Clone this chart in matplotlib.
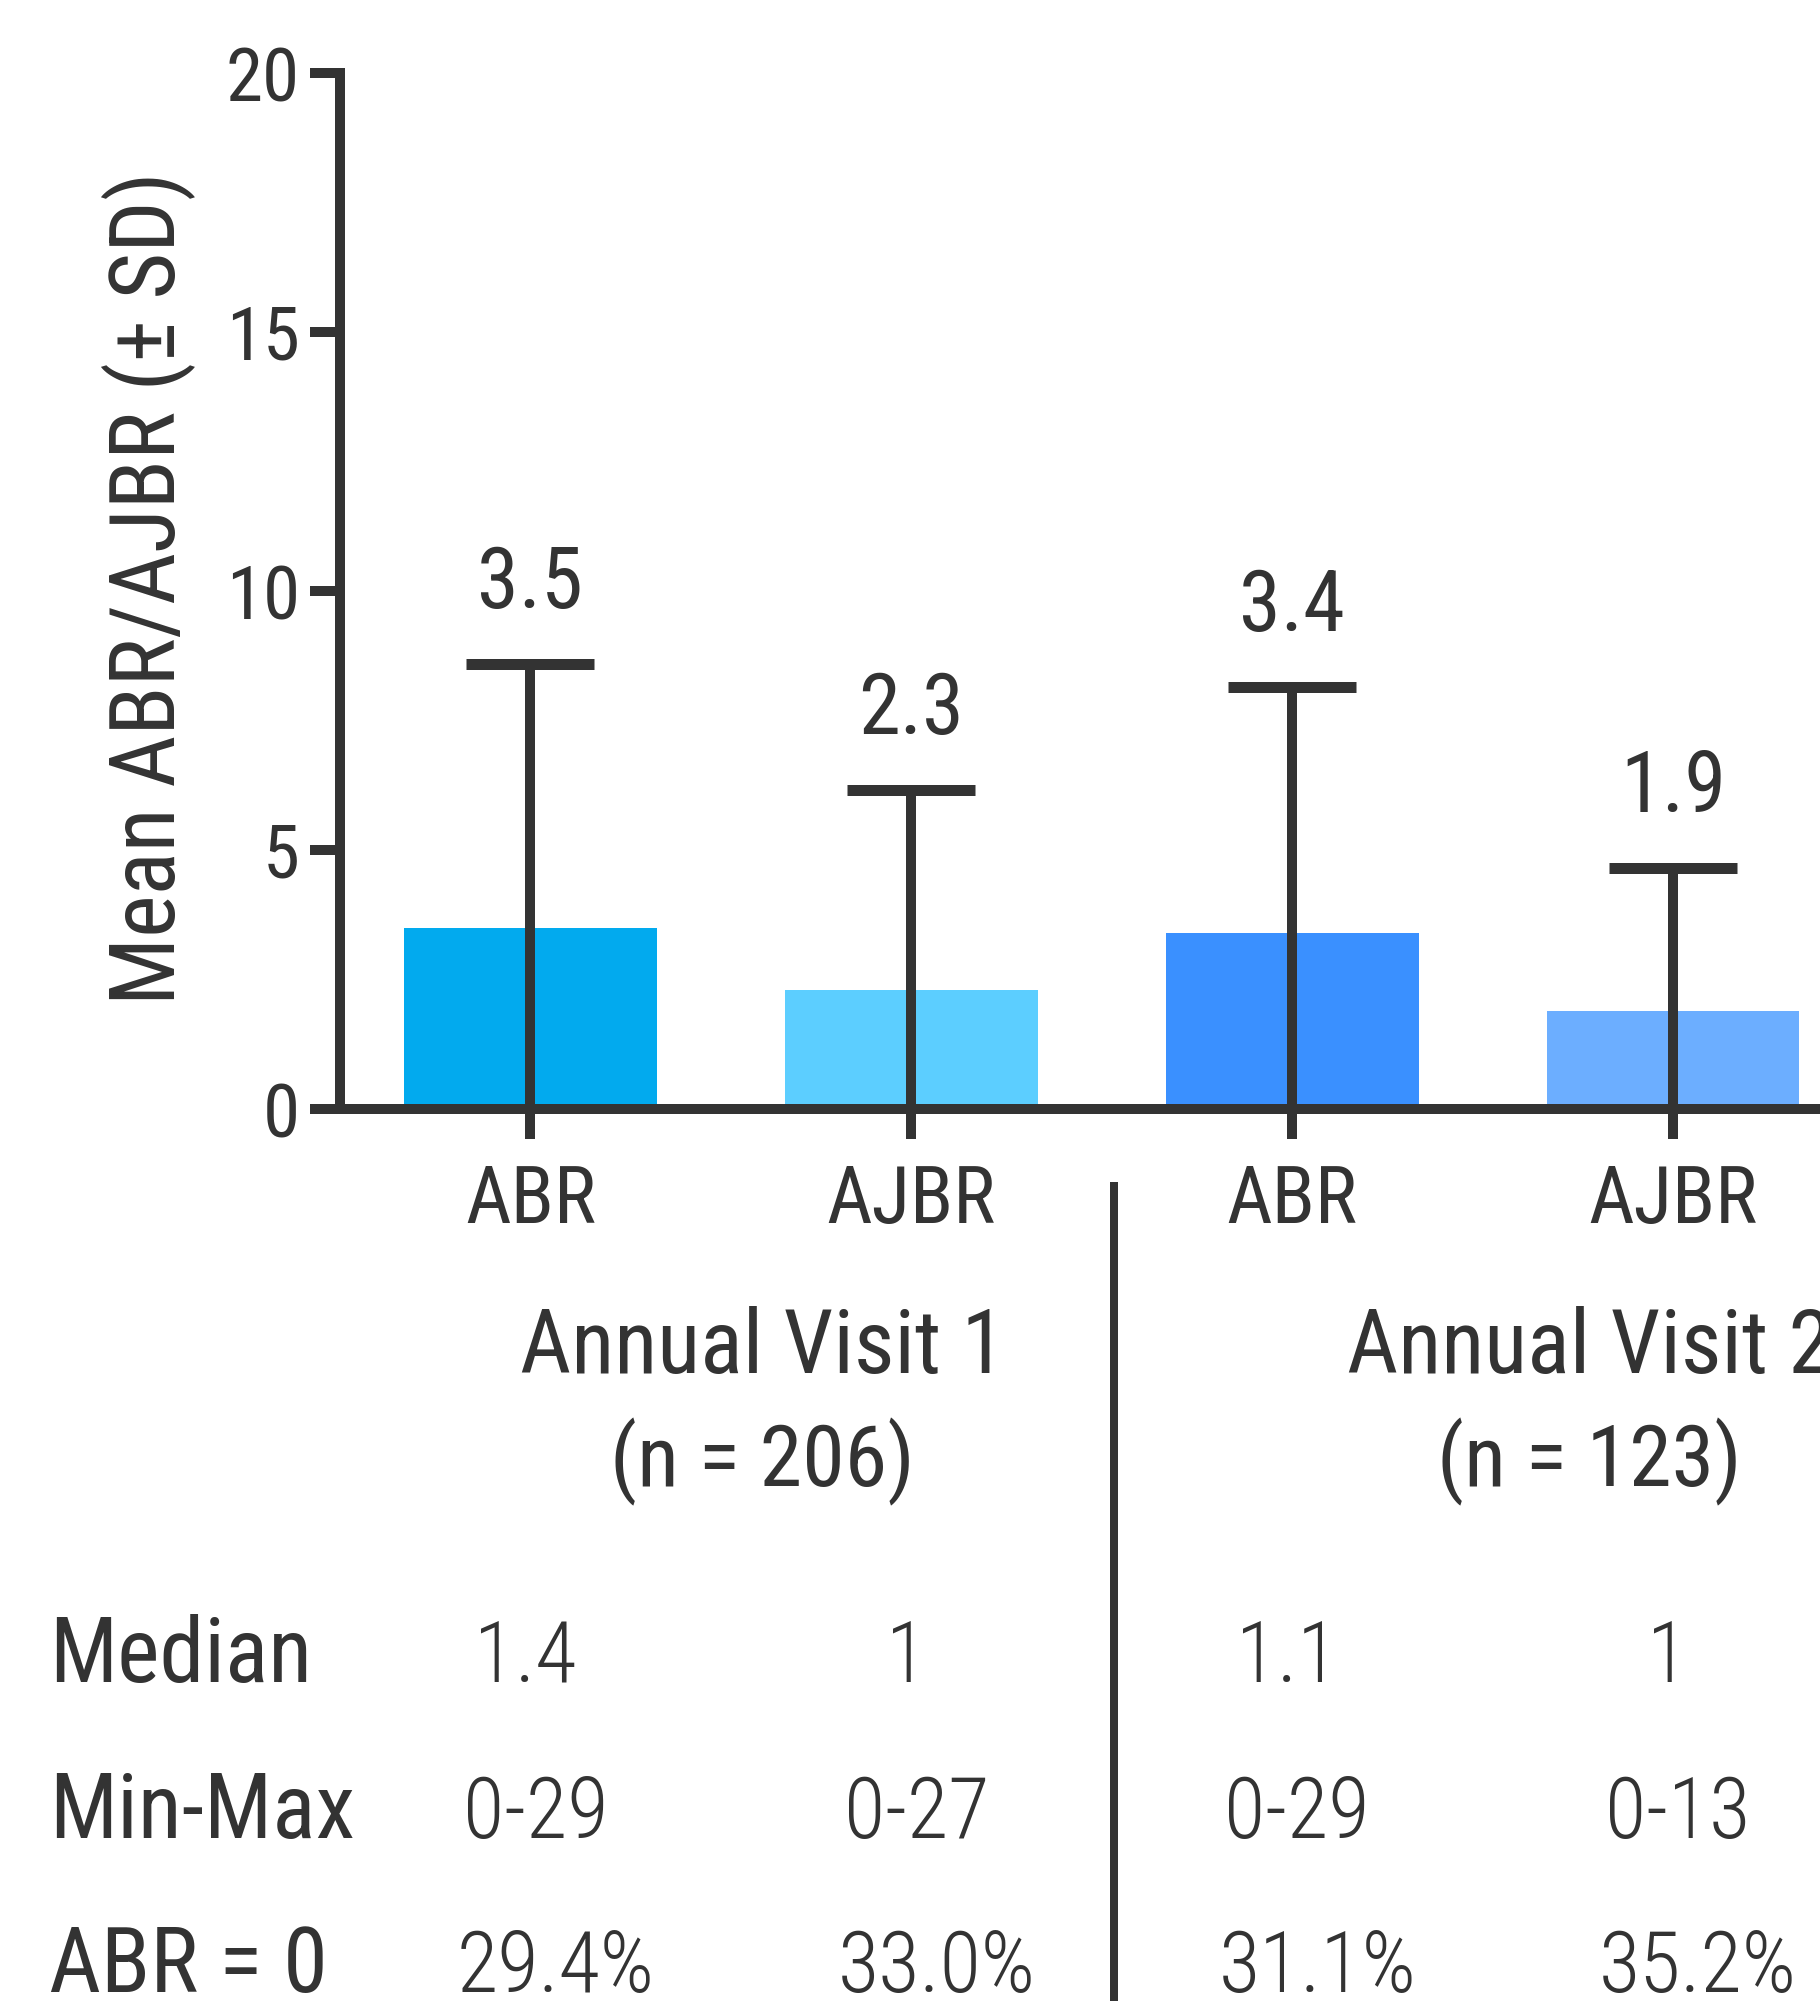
import numpy as np
import matplotlib
matplotlib.use("Agg")
import matplotlib.pyplot as plt
import matplotlib.transforms as mtransforms
from matplotlib.lines import Line2D

# =========================
# DATA
# =========================
categories = ["ABR", "AJBR", "ABR", "AJBR"]
means = [3.5, 2.3, 3.4, 1.9]
sd = [5.1, 3.85, 4.75, 2.75]
mean_labels = ["3.5", "2.3", "3.4", "1.9"]
bar_colors = ["#02AAEE", "#5CCEFF", "#3A90FF", "#6CAEFF"]

visit_titles = ["Annual Visit 1\n(n = 206)", "Annual Visit 2\n(n = 123)"]

row_names = ["Median", "Min-Max", "ABR = 0"]
medians = ["1.4", "1", "1.1", "1"]
min_max = ["0-29", "0-27", "0-29", "0-13"]
abr_zero = ["29.4%", "33.0%", "31.1%", "35.2%"]

# =========================
# STYLE
# =========================
DARK = "#333333"
plt.rcParams["font.family"] = ["Roboto Condensed", "DejaVu Sans"]
plt.rcParams["font.stretch"] = "condensed"
plt.rcParams["text.color"] = DARK

W, H = 1820, 2009
fig = plt.figure(figsize=(W / 100, H / 100), dpi=100)
px = lambda v: v * 72 / 100  # pixels -> points

ax = fig.add_axes([340 / W, (H - 1109) / H, (W - 340) / W, (1109 - 73) / H])

x = np.arange(len(categories))
ax.bar(x, means, width=0.664, color=bar_colors, zorder=2)
ax.errorbar(x, means, yerr=[means, sd], fmt="none", ecolor=DARK,
            elinewidth=px(10), capsize=px(64), capthick=px(11), zorder=3)

for xi, m, s, lab in zip(x, means, sd, mean_labels):
    ax.annotate(lab, (xi, m + s), xytext=(0, px(56)), textcoords="offset points",
                ha="center", va="baseline", fontsize=61, color=DARK)

ax.set_xlim(-0.5, 3.386)
ax.set_ylim(0, 20)
ax.set_yticks([0, 5, 10, 15, 20])
ax.set_xticks(x)
ax.set_xticklabels(categories, fontsize=57)
ax.tick_params(axis="both", direction="out", length=px(30), width=px(10),
               color=DARK, labelcolor=DARK)
ax.tick_params(axis="y", pad=px(10), labelsize=54)
ax.tick_params(axis="x", pad=px(24))

for side in ["top", "right"]:
    ax.spines[side].set_visible(False)
for side in ["left", "bottom"]:
    ax.spines[side].set_linewidth(px(10))
    ax.spines[side].set_color(DARK)
    ax.spines[side].set_capstyle("projecting")

fig.text(148 / W, 1 - 588 / H, "Mean ABR/AJBR (\u00b1 SD)", rotation=90,
         ha="center", va="center", fontsize=65, color=DARK)

# =========================
# TABLE BELOW THE CHART
# =========================
trans = mtransforms.blended_transform_factory(ax.transData, fig.transFigure)

for xc, title in zip([0.61, 2.78], visit_titles):
    t1, t2 = title.split("\n")
    ax.text(xc, 1 - 1373 / H, t1, transform=trans, ha="center", va="baseline",
            fontsize=64, color=DARK, clip_on=False)
    ax.text(xc, 1 - 1486 / H, t2, transform=trans, ha="center", va="baseline",
            fontsize=62, color=DARK, clip_on=False)

row_base = [1682, 1838, 1992]
row_shift = [-5, 5, 25]  # small horizontal nudge per row, pixels
for name, yb, dx, vals in zip(row_names, row_base, row_shift,
                              [medians, min_max, abr_zero]):
    fig.text(49 / W, 1 - yb / H, name, ha="left", va="baseline",
             fontsize=65, color=DARK)
    shift = mtransforms.ScaledTranslation(dx / 100, 0, fig.dpi_scale_trans)
    for xi, v in zip(x, vals):
        ax.text(xi, 1 - yb / H, v, transform=trans + shift, ha="center",
                va="baseline", fontsize=61, fontweight="light", color=DARK,
                clip_on=False)

fig.add_artist(Line2D([1114 / W, 1114 / W], [1 - 1186 / H, 1 - 1997 / H],
                      transform=fig.transFigure, color=DARK, linewidth=px(8)))

fig.savefig("out.png", dpi=100)
